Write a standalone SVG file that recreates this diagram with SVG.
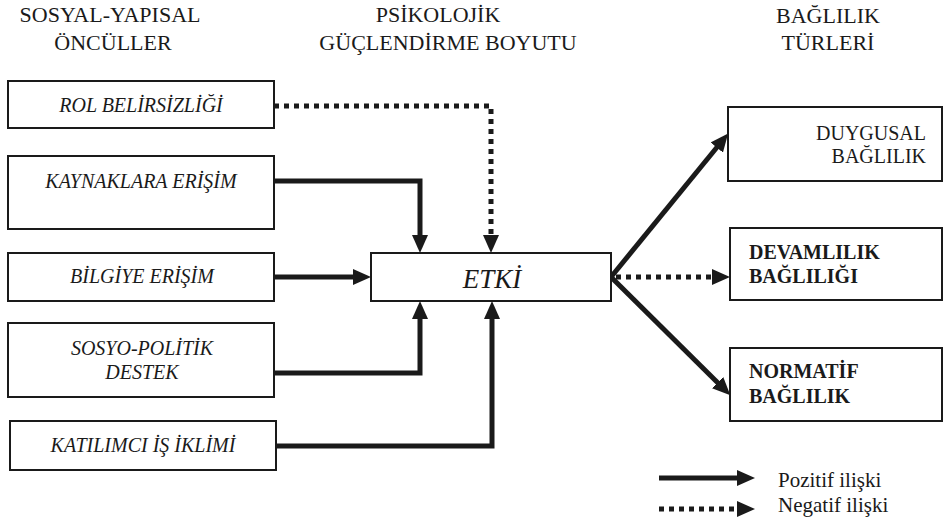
<svg xmlns="http://www.w3.org/2000/svg" width="944" height="530" viewBox="0 0 944 530" font-family="'Liberation Serif', 'Times New Roman', Times, 'DejaVu Serif', serif">
<defs>
<style>
text{font-family:'Liberation Serif','Times New Roman',Times,'DejaVu Serif',serif;fill:#1a1a1a}
.box{fill:#fff;stroke:#1a1a1a;stroke-width:2}
.hdr{font-size:22px;text-anchor:middle}
.lt{font-size:20px;font-style:italic;text-anchor:middle}
.rt{font-size:20px}
.rb{font-size:20px;font-weight:bold}
.leg{font-size:21px}
.pos{fill:none;stroke:#1a1a1a;stroke-width:5;marker-end:url(#ah)}
.neg{fill:none;stroke:#1a1a1a;stroke-width:5;stroke-dasharray:5 5;marker-end:url(#ah)}
</style>
<marker id="ah" viewBox="0 0 18 16" refX="2" refY="8" markerWidth="18" markerHeight="16" markerUnits="userSpaceOnUse" orient="auto">
<path d="M0,0 L18,8 L0,16 z" fill="#1a1a1a"/>
</marker>
</defs>
<g id="headers">
<text class="hdr" x="110" y="22">SOSYAL-YAPISAL</text>
<text class="hdr" x="113" y="50">ÖNCÜLLER</text>
<text class="hdr" x="438" y="22">PSİKOLOJİK</text>
<text class="hdr" x="448" y="50">GÜÇLENDİRME BOYUTU</text>
<text class="hdr" x="828" y="23">BAĞLILIK</text>
<text class="hdr" x="828" y="50">TÜRLERİ</text>
</g>
<g id="connectors">
<path class="neg" d="M274,106 H491 V237"/>
<path class="pos" d="M274,181 H420 V237"/>
<path class="pos" d="M274,277 H355"/>
<path class="pos" d="M274,373 H420 V317"/>
<path class="pos" d="M276,446 H492 V317"/>
<path class="pos" d="M611,277 L718,146"/>
<path class="neg" d="M616,277 H714"/>
<path class="pos" d="M611,277 L719,384"/>
</g>
<g id="rol">
<rect class="box" x="8" y="81" width="266" height="47"/>
<text class="lt" x="141" y="112">ROL BELİRSİZLİĞİ</text>
</g>
<g id="kaynaklara">
<rect class="box" x="8" y="156" width="266" height="73"/>
<text class="lt" x="141" y="188">KAYNAKLARA ERİŞİM</text>
</g>
<g id="bilgiye">
<rect class="box" x="8" y="253" width="266" height="48"/>
<text class="lt" x="142" y="283">BİLGİYE ERİŞİM</text>
</g>
<g id="sosyo">
<rect class="box" x="8" y="323" width="266" height="74"/>
<text class="lt" x="142" y="355">SOSYO-POLİTİK</text>
<text class="lt" x="142" y="379">DESTEK</text>
</g>
<g id="katilimci">
<rect class="box" x="10" y="421" width="266" height="49"/>
<text class="lt" x="143" y="452">KATILIMCI İŞ İKLİMİ</text>
</g>
<g id="etki">
<rect class="box" x="371" y="253" width="240" height="48"/>
<text class="lt" x="492" y="288" style="font-size:27px">ETKİ</text>
</g>
<g id="duygusal">
<rect class="box" x="728" y="107" width="214" height="74"/>
<text class="rt" x="926" y="140" text-anchor="end">DUYGUSAL</text>
<text class="rt" x="926" y="163" text-anchor="end">BAĞLILIK</text>
</g>
<g id="devamlilik">
<rect class="box" x="730" y="228" width="212" height="72"/>
<text class="rb" x="749" y="259">DEVAMLILIK</text>
<text class="rb" x="749" y="283">BAĞLILIĞI</text>
</g>
<g id="normatif">
<rect class="box" x="730" y="348" width="212" height="73"/>
<text class="rb" x="749" y="378">NORMATİF</text>
<text class="rb" x="749" y="403">BAĞLILIK</text>
</g>
<g id="legend">
<path class="pos" d="M659,478 H739"/>
<path class="neg" d="M659,509 H739"/>
<text class="leg" x="778" y="487">Pozitif  ilişki</text>
<text class="leg" x="778" y="512">Negatif ilişki</text>
</g>
</svg>
